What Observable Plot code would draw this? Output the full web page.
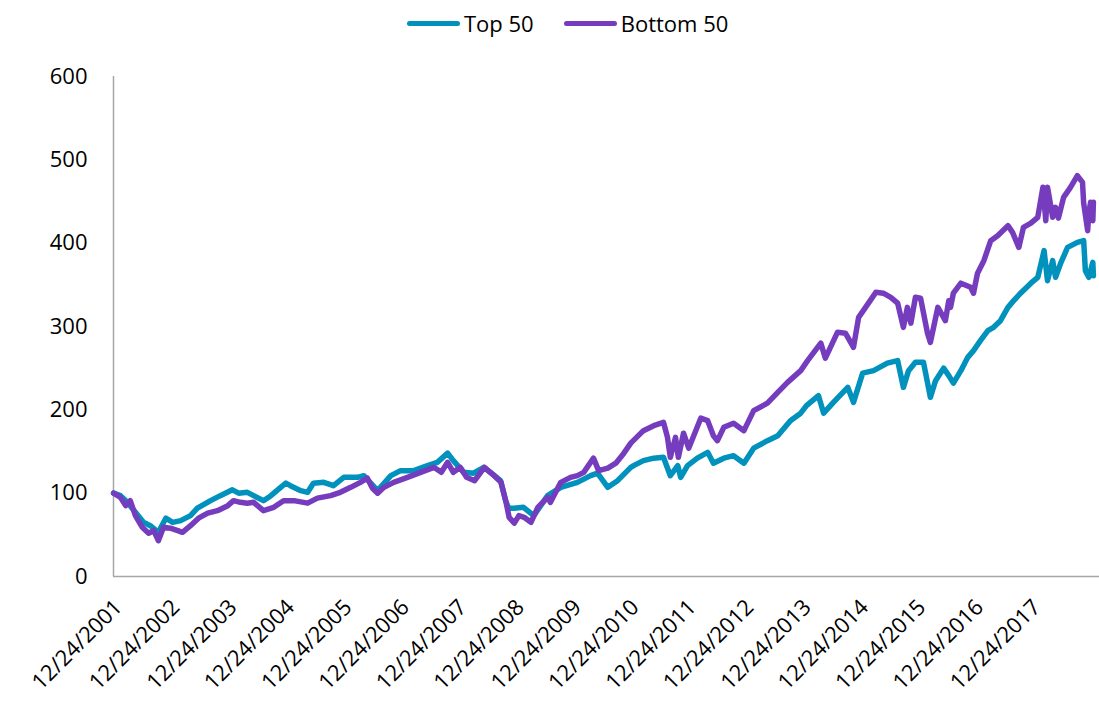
<!DOCTYPE html>
<html>
<head>
<meta charset="utf-8">
<script src="https://cdn.jsdelivr.net/npm/d3@7"></script>
<script src="https://cdn.jsdelivr.net/npm/@observablehq/plot@0.6"></script>
<style>
  html, body { margin: 0; padding: 0; background: #ffffff; }
  body { width: 1099px; height: 703px; position: relative; overflow: hidden; font-family: "Open Sans", sans-serif; }
  #legend { position: absolute; left: 407px; top: 8px; height: 30px; display: flex; align-items: center; font-size: 22px; color: #000; }
  .item { display: flex; align-items: center; margin-right: 30px; }
  .sw { width: 53px; height: 5px; border-radius: 3px; margin-right: 4px; }
  #chart { position: absolute; left: 0; top: 50px; }
</style>
</head>
<body>
<div id="legend"></div>
<div id="chart"></div>
<script>
const seriesNames = ["Top 50", "Bottom 50"];
const seriesColors = ["#0092bc", "#763cbe"];
const tickLabels = ["12/24/2001","12/24/2002","12/24/2003","12/24/2004","12/24/2005","12/24/2006","12/24/2007","12/24/2008","12/24/2009","12/24/2010","12/24/2011","12/24/2012","12/24/2013","12/24/2014","12/24/2015","12/24/2016","12/24/2017"];
const yTicks = [0, 100, 200, 300, 400, 500, 600];

// decimal-year positions and index values
const topYears = [2001.98,2002.10,2002.22,2002.36,2002.50,2002.62,2002.76,2002.89,2003.01,2003.15,2003.32,2003.44,2003.67,2003.84,2004.05,2004.16,2004.31,2004.42,2004.59,2004.72,2004.89,2004.98,2005.06,2005.24,2005.36,2005.46,2005.64,2005.81,2005.99,2006.23,2006.34,2006.46,2006.58,2006.81,2006.98,2007.21,2007.45,2007.62,2007.80,2007.90,2008.08,2008.25,2008.43,2008.60,2008.72,2008.81,2008.86,2008.95,2009.12,2009.30,2009.54,2009.77,2010.06,2010.29,2010.41,2010.59,2010.76,2010.99,2011.04,2011.21,2011.39,2011.56,2011.68,2011.81,2011.86,2011.98,2012.15,2012.33,2012.43,2012.61,2012.78,2012.96,2013.13,2013.37,2013.55,2013.77,2013.95,2014.05,2014.26,2014.35,2014.52,2014.77,2014.87,2015.03,2015.22,2015.46,2015.64,2015.74,2015.83,2015.95,2016.09,2016.21,2016.30,2016.44,2016.53,2016.61,2016.74,2016.86,2016.96,2017.08,2017.21,2017.31,2017.43,2017.56,2017.66,2017.78,2017.96,2018.08,2018.19,2018.25,2018.34,2018.39,2018.48,2018.60,2018.77,2018.88,2018.91,2018.97,2019.04,2019.05];
const topValues = [100,97,89,77,65,61,53,70,65,67,73,82,91,97,104,100,101,97,91,97,107,112,109,103,101,112,113,109,119,119,121,112,103,121,127,127,133,137,148,139,125,124,131,122,115,91,82,82,83,73,97,107,113,121,124,107,115,131,133,139,142,143,121,133,119,133,142,149,136,142,145,136,154,163,169,187,196,205,217,196,209,227,209,244,247,256,259,227,247,257,257,215,235,250,241,232,247,263,271,283,295,299,307,323,331,340,352,359,391,355,379,359,376,395,401,403,367,359,377,361];

const bottomYears = [2001.98,2002.10,2002.19,2002.27,2002.36,2002.48,2002.59,2002.68,2002.76,2002.85,2002.97,2003.10,2003.18,2003.32,2003.46,2003.62,2003.79,2003.97,2004.07,2004.19,2004.31,2004.42,2004.59,2004.77,2004.94,2005.12,2005.36,2005.53,2005.76,2005.93,2006.11,2006.28,2006.40,2006.49,2006.58,2006.69,2006.86,2007.10,2007.33,2007.56,2007.69,2007.80,2007.90,2008.02,2008.13,2008.27,2008.44,2008.61,2008.73,2008.82,2008.87,2008.96,2009.04,2009.13,2009.25,2009.37,2009.54,2009.59,2009.77,2009.94,2010.06,2010.17,2010.34,2010.43,2010.59,2010.73,2010.87,2010.99,2011.21,2011.39,2011.56,2011.63,2011.68,2011.77,2011.82,2011.91,2012.00,2012.21,2012.33,2012.43,2012.50,2012.61,2012.78,2012.96,2013.13,2013.37,2013.55,2013.72,2013.95,2014.07,2014.30,2014.38,2014.59,2014.73,2014.87,2014.96,2015.20,2015.26,2015.39,2015.52,2015.64,2015.74,2015.81,2015.87,2015.95,2016.04,2016.16,2016.21,2016.34,2016.47,2016.53,2016.56,2016.61,2016.74,2016.91,2016.96,2017.03,2017.14,2017.26,2017.38,2017.56,2017.64,2017.75,2017.83,2017.96,2018.08,2018.17,2018.22,2018.25,2018.34,2018.39,2018.44,2018.53,2018.65,2018.77,2018.86,2018.88,2018.95,2018.97,2019.00,2019.04,2019.05];
const bottomValues = [100,95,85,91,73,59,52,55,43,59,58,55,53,61,70,76,79,85,91,89,88,89,79,83,91,91,88,94,97,101,107,113,118,106,100,107,113,119,125,131,125,137,125,131,119,115,131,121,113,88,71,64,73,71,65,83,95,89,113,119,121,125,142,127,130,136,148,160,175,181,185,167,143,167,143,172,154,190,187,169,163,179,184,175,199,208,221,233,247,259,280,262,293,292,275,311,335,341,340,335,328,299,323,304,335,334,292,281,323,307,331,323,340,352,347,340,364,379,403,409,421,413,395,419,424,431,467,427,467,431,443,430,455,467,481,473,448,415,436,449,427,449];

const toDate = t => { const y = Math.floor(t); const s = Date.UTC(y, 0, 1), e = Date.UTC(y + 1, 0, 1); return new Date(s + (t - y) * (e - s)); };
const parseLabel = s => { const [m, d, y] = s.split("/").map(Number); return new Date(Date.UTC(y, m - 1, d)); };
const tickDates = tickLabels.map(parseLabel);
const labelByTime = new Map(tickDates.map((d, i) => [+d, tickLabels[i]]));
const xStart = tickDates[0];
const xEnd = new Date(Date.UTC(2019, 1, 27));

const topData = topYears.map((t, i) => ({date: toDate(t), value: topValues[i]}));
const bottomData = bottomYears.map((t, i) => ({date: toDate(t), value: bottomValues[i]}));

// legend
const legend = document.getElementById("legend");
seriesNames.forEach((n, i) => {
  const it = document.createElement("div"); it.className = "item";
  const sw = document.createElement("div"); sw.className = "sw"; sw.style.background = seriesColors[i];
  const tx = document.createElement("span"); tx.textContent = n;
  it.appendChild(sw); it.appendChild(tx); legend.appendChild(it);
});

const chart = Plot.plot({
  width: 1099, height: 653,
  marginLeft: 113, marginRight: 0, marginTop: 26, marginBottom: 127,
  style: {fontFamily: "Open Sans, sans-serif", fontSize: "22px", color: "#000", background: "transparent", overflow: "visible"},
  x: {type: "utc", domain: [xStart, xEnd]},
  y: {domain: [0, 600]},
  marks: [
    Plot.axisY({ticks: yTicks, tickSize: 0, tickPadding: 26, fontSize: 22, label: null, tickFormat: d => String(d)}),
    Plot.axisX({ticks: tickDates, tickFormat: d => labelByTime.get(+d), tickRotate: -45, tickSize: 0, tickPadding: 8, dx: 5, dy: 19, fontSize: 22, label: null}),
    Plot.ruleY([0], {stroke: "#a6a6a6", strokeWidth: 1.5}),
    Plot.ruleX([xStart], {y1: 0, y2: 600, stroke: "#a6a6a6", strokeWidth: 1.5}),
    Plot.line(topData, {x: "date", y: "value", stroke: seriesColors[0], strokeWidth: 5.5, strokeLinejoin: "round", strokeLinecap: "round"}),
    Plot.line(bottomData, {x: "date", y: "value", stroke: seriesColors[1], strokeWidth: 5.5, strokeLinejoin: "round", strokeLinecap: "round"})
  ]
});
document.getElementById("chart").appendChild(chart);
</script>
</body>
</html>
